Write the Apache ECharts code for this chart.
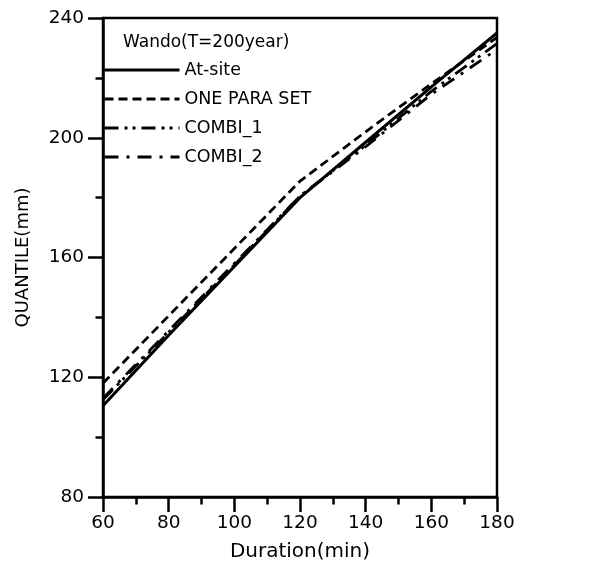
<!DOCTYPE html>
<html>
<head>
<meta charset="utf-8">
<script src="https://cdn.jsdelivr.net/npm/echarts@6/dist/echarts.min.js"></script>
<style>html,body{margin:0;padding:0;background:#fff}#c{width:594px;height:575px}</style>
</head>
<body>
<div id="c"></div>
<script>
var durations = [60, 80, 100, 120, 140, 160, 180];
var atSite     = [110.5, 134, 157, 180, 198.5, 217, 235];
var onePara    = [118, 140.5, 163, 185.5, 202, 218, 233.5];
var combi1     = [112.5, 135, 157.5, 180.5, 197.5, 215.5, 231.5];
var combi2     = [113, 135.5, 158, 180.5, 197, 214.5, 229.5];
var legendTitle = 'Wando(T=200year)';
var seriesNames = ['At-site', 'ONE PARA SET', 'COMBI_1', 'COMBI_2'];

function pairs(vals){ return durations.map(function(d,i){ return [d, vals[i]]; }); }
var FONT = 'DejaVu Sans';
var chart = echarts.init(document.getElementById('c'), null, {renderer:'canvas'});
var styles = [
  {type:'solid', width:3},
  {type:[9,5], width:2.8},
  {type:[14,6,3,5,3,6], width:2.8},
  {type:[14,8,3,8], width:2.8}
];
var allVals = [atSite, onePara, combi1, combi2];
chart.setOption({
  animation:false,
  title:{text:legendTitle, left:123, top:34, padding:0, textStyle:{fontFamily:FONT, fontSize:17, fontWeight:'normal', color:'#000'}},
  legend:{
    orient:'vertical', left:103, top:60, padding:0, itemWidth:75, itemHeight:12, itemGap:9,
    data:seriesNames,
    itemStyle:{opacity:0},
    lineStyle:{width:3},
    textStyle:{fontFamily:FONT, fontSize:17.5, color:'#000', lineHeight:20}
  },
  grid:{left:103, right:97, top:18, bottom:78, show:true, borderColor:'#000', borderWidth:2.5, backgroundColor:'transparent'},
  xAxis:{
    type:'value', min:60, max:180, interval:20,
    name:'Duration(min)', nameLocation:'middle', nameGap:45,
    nameTextStyle:{fontFamily:FONT, fontSize:20, color:'#000'},
    axisLine:{lineStyle:{color:'#000', width:2.5}},
    axisTick:{length:15, lineStyle:{color:'#000', width:2.5}},
    minorTick:{show:true, splitNumber:2, length:7.5, lineStyle:{color:'#000', width:2.5}},
    splitLine:{show:false},
    axisLabel:{fontFamily:FONT, fontSize:18.5, color:'#000', margin:17}
  },
  yAxis:{
    type:'value', min:80, max:240, interval:40,
    name:'QUANTILE(mm)', nameLocation:'middle', nameGap:71,
    nameTextStyle:{fontFamily:FONT, fontSize:18, color:'#000'},
    axisLine:{lineStyle:{color:'#000', width:2.5}},
    axisTick:{length:15, lineStyle:{color:'#000', width:2.5}},
    minorTick:{show:true, splitNumber:2, length:7.5, lineStyle:{color:'#000', width:2.5}},
    splitLine:{show:false},
    axisLabel:{fontFamily:FONT, fontSize:18.5, color:'#000', margin:19}
  },
  series: seriesNames.map(function(n,i){
    return {name:n, type:'line', data:pairs(allVals[i]), symbol:'none',
      lineStyle:{color:'#000', width:styles[i].width, type:styles[i].type}, itemStyle:{color:'#000'}};
  })
});
</script>
</body>
</html>
